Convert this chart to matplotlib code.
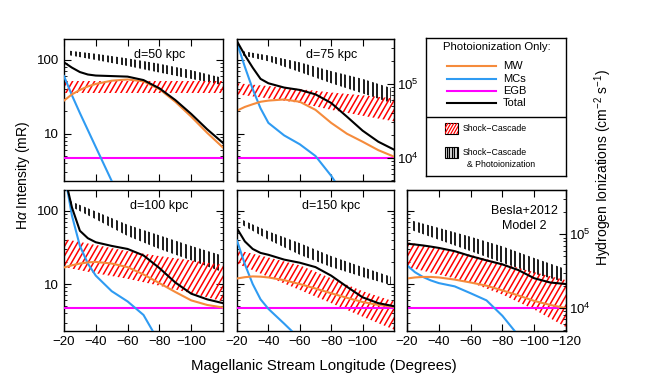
import numpy as np
import matplotlib
matplotlib.use("Agg")
import matplotlib.pyplot as plt
from matplotlib.patches import Rectangle
from matplotlib.collections import LineCollection
from matplotlib.path import Path

plt.rcParams['font.family'] = ['Liberation Sans', 'DejaVu Sans']
plt.rcParams['mathtext.fontset'] = 'custom'
plt.rcParams['mathtext.rm'] = 'Liberation Sans'
plt.rcParams['mathtext.it'] = 'Liberation Sans:italic'

# ---------------- data ----------------
lon = [-20, -25, -30, -35, -40, -50, -60, -70, -80, -90, -100, -110, -120]
band_lon = [-20, -40, -60, -80, -100, -120]
vband_lon = [-22, -40, -60, -80, -100, -118]
egb_level = 4.75
ion_per_mR = 1e4 / 4.75

# d = 50 kpc
d50_total = [92, 78, 68, 63, 61, 60, 59, 53, 41, 28.5, 18.5, 11.5, 7.5]
d50_mw = [28, 34, 39, 43.5, 47, 52, 54, 51, 40, 27, 17, 10.3, 6.5]
d50_mcs = [60, 33, 19, 11.2, 6.6, 2.3, 0.8, np.nan, np.nan, np.nan, np.nan, np.nan, np.nan]
d50_sc_lo = [35, 35, 35, 35, 35, 35]
d50_sc_hi = [51, 51, 51, 51, 51, 51]
d50_scp_lo = [116, 99, 82, 67, 55, 46]
d50_scp_hi = [133, 120, 104, 88, 72, 58]

# d = 75 kpc
d75_total = [177, 115, 78, 55, 48, 42, 39, 34, 26, 17, 11, 7.8, 6.1]
d75_mw = [20.5, 23, 25, 27, 28, 29, 27, 21, 14, 10, 7.8, 6, 4.9]
d75_mcs = [168, 80, 40, 22, 14, 9.5, 7.2, 5.0, 2.7, 1.3, np.nan, np.nan, np.nan]
d75_sc_lo = [34, 30, 26, 21, 17.5, 14.7]
d75_sc_hi = [48, 44, 40, 36, 33, 30]
d75_scp_lo = [116, 95, 68, 48, 35, 26]
d75_scp_hi = [132, 114, 92, 70, 55, 41.5]

# d = 100 kpc
d100_total = [320, 110, 53, 42, 37, 33, 30, 24.5, 16.5, 10.5, 7.4, 6.2, 5.5]
d100_mw = [16.8, 18, 19, 19.7, 20, 19, 17, 13.5, 10.3, 7.8, 6.0, 5.2, 4.8]
d100_mcs = [350, 85, 33, 19, 13, 8, 5.8, 3.8, 1.6, np.nan, np.nan, np.nan, np.nan]
d100_sc_lo = [17, 14, 11.8, 9.5, 7.5, 5.8]
d100_sc_hi = [41, 34, 28, 24, 21, 18.2]
d100_scp_lo = [120, 76, 45, 30, 21, 15]
d100_scp_hi = [140, 97, 64, 46, 33, 25]

# d = 150 kpc
d150_total = [57, 38, 30, 26.5, 25, 21.5, 19.5, 17, 13, 9.2, 6.6, 5.5, 5.0]
d150_mw = [11.9, 12.4, 12.7, 12.6, 12.3, 11.3, 10, 8.7, 7.5, 6.5, 5.7, 5.2, 4.9]
d150_mcs = [39, 18.6, 10, 6.2, 4.6, 2.9, 1.8, np.nan, np.nan, np.nan, np.nan, np.nan, np.nan]
d150_sc_lo = [19, 12.5, 8.3, 5.5, 3.6, 2.4]
d150_sc_hi = [29, 23, 18, 12, 8, 5.8]
d150_scp_lo = [66, 40, 25, 17, 12.5, 9.7]
d150_scp_hi = [77, 52, 36, 24, 17, 12.6]

# Besla+2012 Model 2
besla_total = [35.4, 34.5, 33.5, 32.3, 31, 28, 24, 21, 18.5, 15.5, 12, 10.5, 10]
besla_mw = [11.9, 12.3, 12.5, 12.5, 12.3, 11.5, 10.5, 9.5, 8.2, 7, 5.9, 5.2, 4.7]
besla_mcs = [18, 14.5, 12.5, 11.2, 10.3, 9.3, 7.5, 6.0, 3.7, 2.0, np.nan, np.nan, np.nan]
besla_sc_lo = [17, 13.5, 10.5, 7.2, 4.5, 2.6]
besla_sc_hi = [37, 31, 25, 19, 14.5, 11.3]
besla_scp_lo = [55, 40, 28, 19.5, 13.8, 10.8]
besla_scp_hi = [74, 58, 44, 32.5, 22.6, 16.5]

panel_titles = ['d=50 kpc', 'd=75 kpc', 'd=100 kpc', 'd=150 kpc', 'Besla+2012\nModel 2']
x_ticks = [-20, -40, -60, -80, -100, -120]

# ---------------- style ----------------
C_MW = '#F58B3C'
C_MC = '#2F9BF2'
C_EGB = '#FF00FF'
C_SC = '#FF0000'
W, H = 650, 390
SP_RED = 5.5         # px between red stripes (horizontal)
SP_BLK = 4.6         # px between black bars
ANGLE = 60.0         # degrees of the red stripes
LW_RED = 1.1
LW_BLK = 1.25


def frac(l, t, r, b):
    return [l / W, 1 - b / H, (r - l) / W, (b - t) / H]


def hatch_segments(wpx, hpx, angle, spacing):
    """line segments in axes-fraction coordinates covering the whole axes"""
    segs = []
    if angle >= 90:
        for xp in np.arange(spacing / 2, wpx, spacing):
            segs.append([(xp / wpx, 0), (xp / wpx, 1)])
    else:
        run = hpx / np.tan(np.radians(angle))
        for x0 in np.arange(-run, wpx + spacing, spacing):
            segs.append([(x0 / wpx, 0), ((x0 + run) / wpx, 1)])
    return segs


def hatch_band(ax, x, lo, hi, color, angle, spacing, lw):
    poly = ax.fill_between(x, lo, hi, facecolor='none', edgecolor='none', linewidth=0)
    pos = ax.get_position()
    wpx, hpx = pos.width * W, pos.height * H
    lc = LineCollection(hatch_segments(wpx, hpx, angle, spacing), transform=ax.transAxes,
                        colors=color, linewidths=lw, zorder=2)
    lc.set_clip_path(poly.get_paths()[0], ax.transData)
    ax.add_collection(lc, autolim=False)


fig = plt.figure(figsize=(6.5, 3.9), dpi=100)

panels = [
    (frac(64, 39, 223, 181), d50_total, d50_mw, d50_mcs, d50_sc_lo, d50_sc_hi, d50_scp_lo, d50_scp_hi, True, False, False),
    (frac(237, 39, 394, 181), d75_total, d75_mw, d75_mcs, d75_sc_lo, d75_sc_hi, d75_scp_lo, d75_scp_hi, False, False, True),
    (frac(64, 190, 223, 331), d100_total, d100_mw, d100_mcs, d100_sc_lo, d100_sc_hi, d100_scp_lo, d100_scp_hi, True, True, False),
    (frac(237, 190, 394, 331), d150_total, d150_mw, d150_mcs, d150_sc_lo, d150_sc_hi, d150_scp_lo, d150_scp_hi, False, True, False),
    (frac(407, 190, 566, 331), besla_total, besla_mw, besla_mcs, besla_sc_lo, besla_sc_hi, besla_scp_lo, besla_scp_hi, False, True, True),
]

ylim = (2.3, 190)
for i, (pos, tot, mw, mcs, sclo, schi, scplo, scphi, showy, showx, twin) in enumerate(panels):
    ax = fig.add_axes(pos)
    ax.set_yscale('log')
    ax.set_xlim(-20, -120)
    ax.set_ylim(*ylim)
    hatch_band(ax, vband_lon, scplo, scphi, 'black', 90, SP_BLK, LW_BLK)
    hatch_band(ax, band_lon, sclo, schi, C_SC, ANGLE, SP_RED, LW_RED)
    ax.axhline(egb_level, color=C_EGB, lw=1.5, zorder=3)
    ax.plot(lon, mcs, color=C_MC, lw=1.5, zorder=3)
    ax.plot(lon, mw, color=C_MW, lw=1.5, zorder=3)
    ax.plot(lon, tot, color='black', lw=1.5, zorder=4)
    ticks = x_ticks if i == 4 else x_ticks[:-1]
    ax.set_xticks(ticks)
    ax.set_xticklabels([str(v).replace('-', '\u2212') for v in ticks])
    ax.set_yticks([10, 100])
    ax.set_yticklabels(['10', '100'])
    ax.tick_params(which='both', direction='in', top=True, right=not twin, labelsize=9.5)
    ax.tick_params(which='major', length=5, width=0.8)
    ax.tick_params(which='minor', length=2.5, width=0.6)
    if not showy:
        ax.tick_params(labelleft=False)
    if not showx:
        ax.tick_params(labelbottom=False)
    for s in ax.spines.values():
        s.set_linewidth(1.0)
    if i == 4:
        ax.text(0.74, 0.895, panel_titles[i], transform=ax.transAxes, ha='center', va='top',
                fontsize=9, linespacing=1.3)
    else:
        ax.text(0.6, 0.93, panel_titles[i], transform=ax.transAxes, ha='center', va='top', fontsize=9)
    if twin:
        ax2 = ax.twinx()
        ax2.set_yscale('log')
        ax2.set_ylim(ylim[0] * ion_per_mR, ylim[1] * ion_per_mR)
        ax2.tick_params(which='both', direction='in', labelsize=9.5, pad=2)
        ax2.tick_params(which='major', length=5, width=0.8)
        ax2.tick_params(which='minor', length=2.5, width=0.6)
        ax2.set_yticks([1e4, 1e5])
        ax2.set_yticklabels([r'$10^4$', r'$10^5$'])

# ---------------- legend box ----------------
lg = fig.add_axes(frac(426, 38, 566, 176))
lg.set_xlim(426, 566)
lg.set_ylim(176, 38)
lg.set_xticks([])
lg.set_yticks([])
for s in lg.spines.values():
    s.set_linewidth(1.0)
lg.axhline(117, color='black', lw=1.0)
lg.text(497, 47, 'Photoionization Only:', ha='center', va='center', fontsize=8.2)
leg_items = [('MW', C_MW, 66), ('MCs', C_MC, 79), ('EGB', C_EGB, 91), ('Total', 'black', 103)]
for name, col, yy in leg_items:
    lg.plot([447, 496], [yy, yy], color=col, lw=1.5)
    lg.text(503, yy, name, ha='left', va='center', fontsize=8)

# legend swatches with the same hatching
for (y0, col, ang, lw) in [(123, C_SC, ANGLE, 0.9), (147, 'black', 90, 1.0)]:
    bx0, bx1, by0, by1 = 445, 458, y0, y0 + 11
    clip = Path([(bx0, by0), (bx1, by0), (bx1, by1), (bx0, by1), (bx0, by0)], closed=True)
    segs = []
    if ang >= 90:
        for xp in np.arange(bx0 + 1.5, bx1, 2.6):
            segs.append([(xp, by0), (xp, by1)])
    else:
        run = 11 / np.tan(np.radians(ang))
        for xp in np.arange(bx0 - run, bx1 + 3, 3.0):
            segs.append([(xp, by1), (xp + run, by0)])
    lc = LineCollection(segs, colors=col, linewidths=lw, transform=lg.transData)
    lg.add_collection(lc, autolim=False)
    lc.set_clip_path(clip, lg.transData)
    lg.add_patch(Rectangle((bx0, by0), 13, 11, facecolor='none', edgecolor='black', lw=0.8))
lg.text(463, 129, 'Shock\u2212Cascade', ha='left', va='center', fontsize=6.3)
lg.text(463, 153, 'Shock\u2212Cascade', ha='left', va='center', fontsize=6.3)
lg.text(467, 165, '& Photoionization', ha='left', va='center', fontsize=6.3)

# ---------------- axis labels ----------------
fig.text(23 / W, 1 - 175 / H, r'H$\alpha$ Intensity (mR)', rotation=90, ha='center', va='center', fontsize=10)
fig.text(324 / W, 1 - 366 / H, 'Magellanic Stream Longitude (Degrees)', ha='center', va='center', fontsize=10.8)
fig.text(603 / W, 1 - 167 / H, r'Hydrogen Ionizations (cm$^{-2}$ s$^{-1}$)', rotation=90,
         ha='center', va='center', fontsize=10)

fig.savefig('out.png', dpi=100)
